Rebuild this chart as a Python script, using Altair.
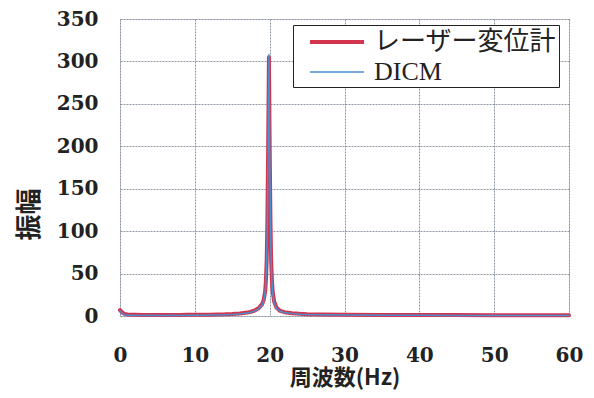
import altair as alt
import pandas as pd

# Frequencies (Hz) and amplitudes
freq_laser = [0, 0.3, 0.6, 1, 2, 3, 4, 5, 6, 7, 8, 9, 10, 11, 12, 13, 14, 15, 16, 17,
              17.5, 18, 18.5, 19, 19.2, 19.4, 19.5, 19.6, 19.7, 19.8, 19.85, 19.9, 19.95,
              20.0, 20.1, 20.2, 20.3, 20.4, 20.6, 20.9, 21.4, 22, 23, 24, 25, 27, 30,
              35, 40, 45, 50, 55, 60]
amp_laser = [7, 4, 2.5, 1.8, 1.5, 1.2, 1.3, 1.1, 1.2, 1.3, 1.2, 1.4, 1.4, 1.5, 1.6, 1.8,
             2.0, 2.4, 3.0, 4.0, 5.0, 6.5, 9, 14, 19, 29, 42, 65, 115, 200, 250, 305, 250,
             200, 115, 65, 42, 29, 17, 10, 6, 4.5, 3.2, 2.6, 2.2, 1.8, 1.5,
             1.3, 1.2, 1.1, 1.0, 1.0, 0.9]

freq_dicm = [0, 0.3, 0.6, 1, 2, 3, 4, 5, 6, 7, 8, 9, 10, 11, 12, 13, 14, 15, 16, 17,
             17.5, 18, 18.5, 19, 19.2, 19.4, 19.5, 19.6, 19.7, 19.8, 19.85, 19.9, 19.95,
             20.0, 20.1, 20.2, 20.3, 20.4, 20.6, 20.9, 21.4, 22, 23, 24, 25, 27, 30,
             35, 40, 45, 50, 55, 60]
amp_dicm = [6, 3, 1.5, 1.0, 0.8, 0.7, 0.8, 0.6, 0.7, 0.8, 0.7, 0.9, 0.9, 1.0, 1.1, 1.3,
            1.5, 1.9, 2.5, 3.5, 4.5, 6.0, 8.5, 13, 18, 28, 41, 64, 116, 205, 255, 308, 252,
            198, 112, 63, 40, 27, 16, 9, 5.5, 4.0, 2.8, 2.2, 1.8, 1.4, 1.1,
            0.9, 0.8, 0.7, 0.6, 0.6, 0.5]

series_names = ["レーザー変位計", "DICM"]
series_colors = ["#d3354f", "#4a8fd0"]
series_widths = [4, 1.5]

x_ticks = [0, 10, 20, 30, 40, 50, 60]
y_ticks = [0, 50, 100, 150, 200, 250, 300, 350]

df = pd.concat([
    pd.DataFrame({"freq": freq_laser, "amp": amp_laser, "series": series_names[0]}),
    pd.DataFrame({"freq": freq_dicm, "amp": amp_dicm, "series": series_names[1]}),
], ignore_index=True)

label_font = "DejaVu Serif"
grid_color = "#7d8696"

x_enc = alt.X("freq:Q",
              scale=alt.Scale(domain=[0, 60], nice=False),
              axis=alt.Axis(values=x_ticks, title="周波数(Hz)", ticks=False, domain=False,
                            labelFlush=False, labelOverlap=False,
                            labelFont=label_font, labelFontWeight="bold", labelFontSize=20,
                            labelColor="#222", labelPadding=29,
                            titleFont="Noto Sans CJK JP", titleFontWeight="bold",
                            titleFontSize=22, titleColor="#222", titleY=51,
                            titleBaseline="top",
                            gridColor=grid_color, gridDash=[2, 1], gridOpacity=0.85))
y_enc = alt.Y("amp:Q",
              scale=alt.Scale(domain=[0, 350], nice=False),
              axis=alt.Axis(values=y_ticks, title="振幅", ticks=False, domain=False,
                            labelFlush=False, labelOverlap=False,
                            labelFont=label_font, labelFontWeight="bold", labelFontSize=20,
                            labelColor="#222", labelPadding=22,
                            titleFont="Noto Sans CJK JP", titleFontWeight="bold",
                            titleFontSize=26, titleColor="#222",
                            titleX=-78, titleY=195, titleBaseline="bottom",
                            gridColor=grid_color, gridDash=[2, 1], gridOpacity=0.85))

color_enc = alt.Color("series:N",
                      scale=alt.Scale(domain=series_names, range=series_colors),
                      legend=alt.Legend(title=None, orient="none", legendX=173, legendY=6,
                                        strokeColor="#222", fillColor="white",
                                        padding=2, symbolOffset=27, labelOffset=22,
                                        rowPadding=3,
                                        symbolType="M-2.08,0H2.08", symbolSize=676,
                                        labelFont="Liberation Serif, Noto Sans CJK JP",
                                        labelFontSize=26, labelColor="#222",
                                        labelExpr="datum.label + '\u00a0\u00a0'",
                                        labelLimit=400))
width_enc = alt.StrokeWidth("series:N",
                            scale=alt.Scale(domain=series_names, range=series_widths),
                            legend=alt.Legend(title=None))

base = alt.Chart(df).mark_line(strokeCap="round", strokeJoin="round").encode(
    x=x_enc, y=y_enc, color=color_enc, strokeWidth=width_enc
)

red = base.transform_filter(alt.datum.series == series_names[0])
blue = base.transform_filter(alt.datum.series == series_names[1])

chart = alt.layer(red, blue).properties(
    width=449, height=297,
    autosize=alt.AutoSizeParams(type="none"),
    padding={"left": 112, "top": 11, "right": 17, "bottom": 74},
).configure_view(stroke="#8a8f9a", strokeWidth=1.5).configure(background="white")

chart.save("out.html", embed_options={"renderer": "svg", "actions": False})
